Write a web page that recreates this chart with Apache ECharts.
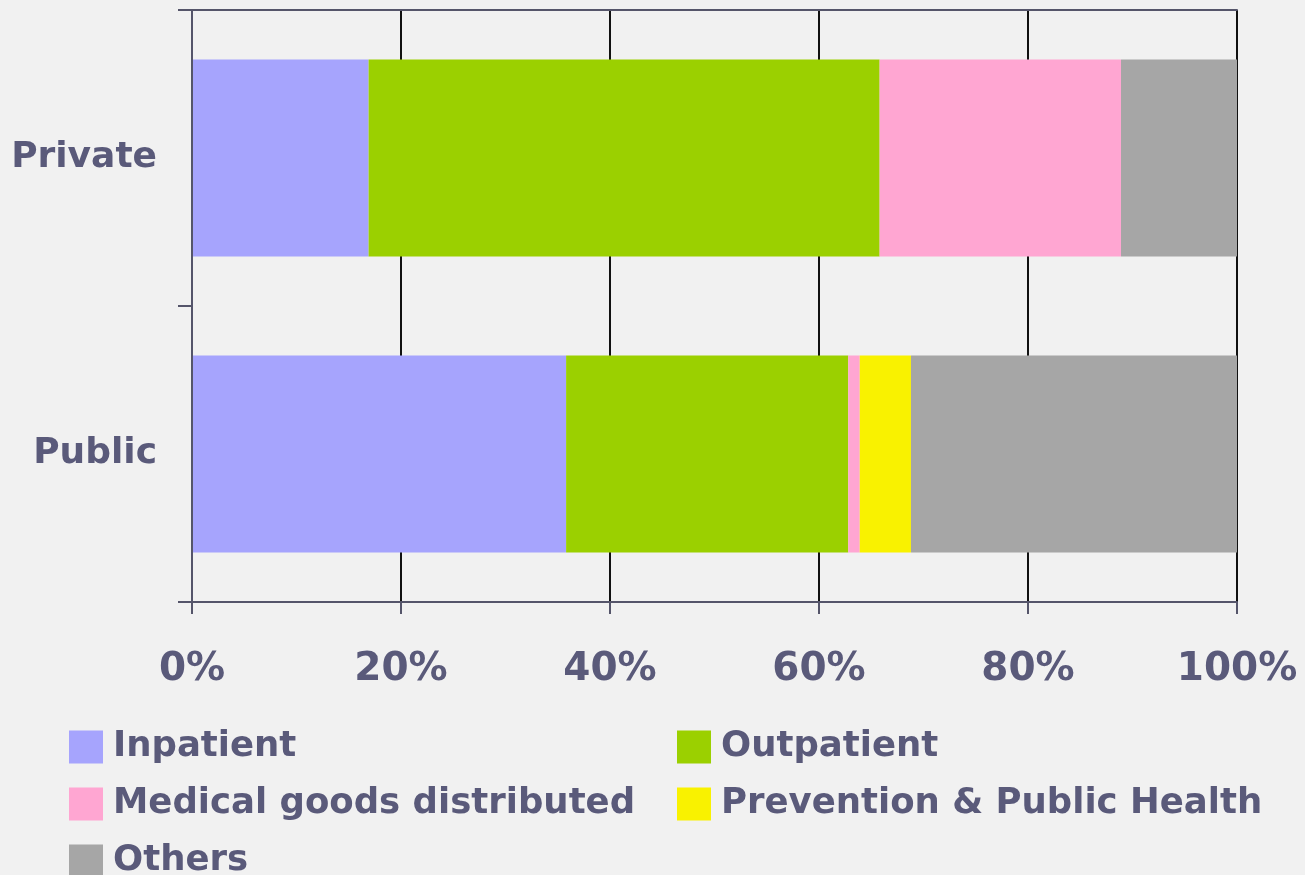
<!DOCTYPE html>
<html>
<head>
<meta charset="utf-8">
<script src="https://cdn.jsdelivr.net/npm/echarts@6/dist/echarts.min.js"></script>
<style>
html,body{margin:0;padding:0;background:#f1f1f1;}
#chart{width:1305px;height:875px;}
</style>
</head>
<body>
<div id="chart"></div>
<script>
var categories = ['Private', 'Public'];
var seriesNames = ['Inpatient', 'Outpatient', 'Medical goods distributed', 'Prevention & Public Health', 'Others'];
var inpatient = [16.9, 35.8];
var outpatient = [48.9, 27.0];
var medicalGoods = [23.1, 1.1];
var prevention = [0, 4.9];
var others = [11.1, 31.2];
var xTicks = [0, 20, 40, 60, 80, 100];

var colors = ['#a6a4fd', '#9bd000', '#ffa6d2', '#f9f200', '#a6a6a6'];
var values = [inpatient, outpatient, medicalGoods, prevention, others];
var textColor = '#5a5a7a';
var axisColor = '#55556a';
var font = 'DejaVu Sans';

var series = seriesNames.map(function (name, i) {
  return {
    name: name,
    type: 'bar',
    stack: 'total',
    barCategoryGap: '33.5%',
    data: values[i],
    itemStyle: { color: colors[i] },
    emphasis: { disabled: true }
  };
});

var legendText = { color: textColor, fontFamily: font, fontWeight: 'bold', fontSize: 35.5, lineHeight: 33, padding: [0, 0, 0, 5] };
// legend placement: [series index, left, top]
var legendSlots = [[0, 69, 729], [1, 677, 729], [2, 69, 786], [3, 677, 786], [4, 69, 843]];
var legends = legendSlots.map(function (s) {
  return {
    data: [seriesNames[s[0]]],
    orient: 'horizontal', left: s[1], top: s[2],
    itemWidth: 34, itemHeight: 33, padding: 0,
    icon: 'rect', selectedMode: false,
    textStyle: legendText
  };
});

var chart = echarts.init(document.getElementById('chart'));
chart.setOption({
  backgroundColor: '#f1f1f1',
  animation: false,
  color: colors,
  grid: { left: 192, right: 68, top: 10, bottom: 273 },
  xAxis: [{
    type: 'value',
    min: xTicks[0],
    max: xTicks[xTicks.length - 1],
    interval: 20,
    axisLine: { show: true, lineStyle: { color: axisColor, width: 2 } },
    axisTick: { show: true, length: 12, lineStyle: { color: axisColor, width: 2 } },
    splitLine: { show: true, lineStyle: { color: '#111111', width: 2 } },
    axisLabel: {
      margin: 48,
      formatter: '{value}%',
      color: textColor, fontFamily: font, fontWeight: 'bold', fontSize: 39
    }
  }, {
    type: 'value', position: 'top', min: 0, max: 100,
    axisLine: { show: true, lineStyle: { color: axisColor, width: 2 } },
    axisTick: { show: false }, axisLabel: { show: false }, splitLine: { show: false }
  }],
  yAxis: [{
    type: 'category',
    data: categories,
    inverse: true,
    z: 5,
    axisLine: { show: true, lineStyle: { color: axisColor, width: 2 } },
    axisTick: { show: true, length: 14, lineStyle: { color: axisColor, width: 2 } },
    axisLabel: { margin: 35, color: textColor, fontFamily: font, fontWeight: 'bold', fontSize: 36, padding: [4, 0, 0, 0] }
  }, {
    type: 'category', position: 'right', data: categories, inverse: true,
    axisLine: { show: true, lineStyle: { color: axisColor, width: 2 } },
    axisTick: { show: false }, axisLabel: { show: false }
  }],
  legend: legends,
  series: series
});
</script>
</body>
</html>
